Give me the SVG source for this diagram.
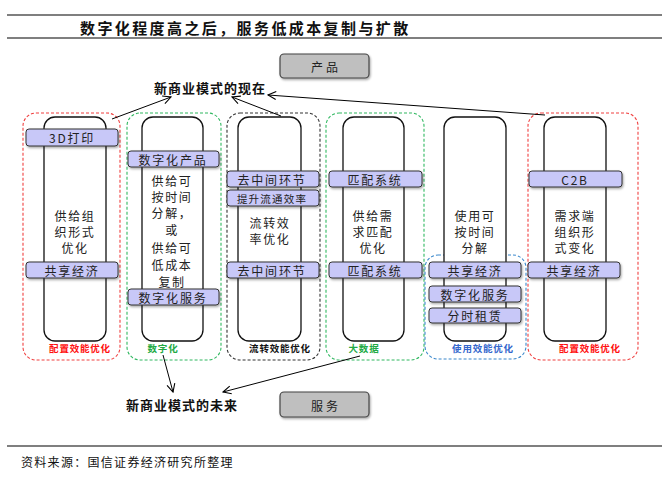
<svg xmlns="http://www.w3.org/2000/svg" width="669" height="479" viewBox="0 0 669 479">
<defs>
<marker id="arr" markerWidth="10" markerHeight="10" refX="9" refY="5" orient="auto" markerUnits="userSpaceOnUse">
<path d="M1,1 L9,5 L1,9" fill="none" stroke="#000" stroke-width="1.1"/>
</marker>
<filter id="sh" x="-10%" y="-20%" width="130%" height="160%">
<feDropShadow dx="1" dy="1.5" stdDeviation="0.8" flood-color="#000" flood-opacity="0.35"/>
</filter>
<style>
text{font-family:"Noto Sans CJK SC","Liberation Serif",serif;fill:#111;}
.title{font-size:15px;font-weight:bold;letter-spacing:2.4px;}
.hd{font-size:13px;font-weight:bold;letter-spacing:1px;}
.body{font-size:12px;letter-spacing:1.6px;fill:#222;}
.bt{font-size:12px;letter-spacing:1.8px;fill:#222;}
.sm{font-size:10.5px;letter-spacing:1.2px;}
.wide{letter-spacing:3px;}
.lab{font-size:9.5px;font-weight:bold;letter-spacing:0.8px;}
.red{fill:#ff1010;}
.grn{fill:#22aa44;}
.blu{fill:#3366cc;}
.dash{fill:none;stroke-width:1.1;stroke-dasharray:3 2;}
.inner{fill:#fff;stroke:#111;stroke-width:1.3;}
.band{fill:#c8c8f8;stroke:#333;stroke-width:1;filter:url(#sh);}
.gbox{fill:#bfbfbf;stroke:#444;stroke-width:1.2;filter:url(#sh);}
.conn{fill:none;stroke:#000;stroke-width:1;marker-end:url(#arr);}
.rule{stroke:#000;stroke-width:1.2;}
</style>
</defs>
<rect width="669" height="479" fill="#fff"/>
<line class="rule" x1="7" y1="15" x2="662" y2="15"/>
<line class="rule" x1="7" y1="38" x2="662" y2="38"/>
<text class="title" x="80" y="27" dominant-baseline="central">数字化程度高之后，服务低成本复制与扩散</text>

<g id="product">
<rect class="gbox" x="280" y="54" width="89" height="24" rx="4"/>
<text class="bt wide" x="326" y="66" text-anchor="middle" dominant-baseline="central">产品</text>
</g>
<g id="now">
<text class="hd" x="210" y="87" text-anchor="middle" dominant-baseline="central">新商业模式的现在</text>
</g>

<g id="col1">
<rect class="dash" x="23" y="113" width="97" height="247" rx="13" stroke="#f04040"/>
<rect class="inner" x="44" y="117" width="62" height="224" rx="11"/>
<rect class="band" x="26" y="129" width="92" height="17" rx="3"/>
<text class="bt" x="72" y="137.5" text-anchor="middle" dominant-baseline="central">3D打印</text>
<text class="body" x="75" y="215" text-anchor="middle" dominant-baseline="central">供给组</text>
<text class="body" x="75" y="231" text-anchor="middle" dominant-baseline="central">织形式</text>
<text class="body" x="75" y="247" text-anchor="middle" dominant-baseline="central">优化</text>
<rect class="band" x="26" y="262" width="92" height="16" rx="3"/>
<text class="bt" x="72" y="270" text-anchor="middle" dominant-baseline="central">共享经济</text>
<text class="lab red" x="80" y="348" text-anchor="middle" dominant-baseline="central">配置效能优化</text>
</g>

<g id="col2">
<rect class="dash" x="127" y="113" width="94" height="247" rx="13" stroke="#30b860"/>
<rect class="inner" x="142" y="117" width="61" height="224" rx="11"/>
<rect class="band" x="128" y="151" width="91" height="16" rx="3"/>
<text class="bt" x="173" y="159" text-anchor="middle" dominant-baseline="central">数字化产品</text>
<text class="body" x="172" y="180" text-anchor="middle" dominant-baseline="central">供给可</text>
<text class="body" x="172" y="196" text-anchor="middle" dominant-baseline="central">按时间</text>
<text class="body" x="172" y="212" text-anchor="middle" dominant-baseline="central">分解，</text>
<text class="body" x="172" y="229" text-anchor="middle" dominant-baseline="central">或</text>
<text class="body" x="172" y="247" text-anchor="middle" dominant-baseline="central">供给可</text>
<text class="body" x="172" y="264" text-anchor="middle" dominant-baseline="central">低成本</text>
<text class="body" x="172" y="281" text-anchor="middle" dominant-baseline="central">复制</text>
<rect class="band" x="128" y="289" width="91" height="16" rx="3"/>
<text class="bt" x="173" y="297" text-anchor="middle" dominant-baseline="central">数字化服务</text>
<text class="lab grn" x="163" y="348" text-anchor="middle" dominant-baseline="central">数字化</text>
</g>

<g id="col3">
<rect class="dash" x="227" y="113" width="93" height="247" rx="13" stroke="#333"/>
<rect class="inner" x="238" y="117" width="63" height="224" rx="11"/>
<rect class="band" x="227" y="171" width="92" height="16" rx="3"/>
<text class="bt" x="272" y="179" text-anchor="middle" dominant-baseline="central">去中间环节</text>
<rect class="band" x="227" y="190" width="92" height="16" rx="3"/>
<text class="bt sm" x="272" y="198" text-anchor="middle" dominant-baseline="central">提升流通效率</text>
<text class="body" x="270" y="222" text-anchor="middle" dominant-baseline="central">流转效</text>
<text class="body" x="270" y="238" text-anchor="middle" dominant-baseline="central">率优化</text>
<rect class="band" x="227" y="262" width="92" height="16" rx="3"/>
<text class="bt" x="272" y="270" text-anchor="middle" dominant-baseline="central">去中间环节</text>
<text class="lab" x="280" y="348" text-anchor="middle" dominant-baseline="central">流转效能优化</text>
</g>

<g id="col4">
<rect class="dash" x="326" y="113" width="98" height="247" rx="13" stroke="#30b860"/>
<rect class="inner" x="343" y="117" width="61" height="224" rx="11"/>
<rect class="band" x="329" y="171" width="93" height="16" rx="3"/>
<text class="bt" x="375" y="179" text-anchor="middle" dominant-baseline="central">匹配系统</text>
<text class="body" x="373" y="215" text-anchor="middle" dominant-baseline="central">供给需</text>
<text class="body" x="373" y="231" text-anchor="middle" dominant-baseline="central">求匹配</text>
<text class="body" x="373" y="247" text-anchor="middle" dominant-baseline="central">优化</text>
<rect class="band" x="329" y="262" width="93" height="16" rx="3"/>
<text class="bt" x="375" y="270" text-anchor="middle" dominant-baseline="central">匹配系统</text>
<text class="lab grn" x="364" y="348" text-anchor="middle" dominant-baseline="central">大数据</text>
</g>

<g id="col5">
<rect class="dash" x="425" y="255" width="101" height="104" rx="13" stroke="#3a88cc"/>
<rect class="inner" x="444" y="117" width="62" height="224" rx="11"/>
<text class="body" x="475" y="215" text-anchor="middle" dominant-baseline="central">使用可</text>
<text class="body" x="475" y="231" text-anchor="middle" dominant-baseline="central">按时间</text>
<text class="body" x="475" y="247" text-anchor="middle" dominant-baseline="central">分解</text>
<rect class="band" x="429" y="262" width="92" height="16" rx="3"/>
<text class="bt" x="475" y="270" text-anchor="middle" dominant-baseline="central">共享经济</text>
<rect class="band" x="429" y="286" width="92" height="16" rx="3"/>
<text class="bt" x="475" y="294" text-anchor="middle" dominant-baseline="central">数字化服务</text>
<rect class="band" x="429" y="308" width="92" height="15" rx="3"/>
<text class="bt" x="475" y="315.5" text-anchor="middle" dominant-baseline="central">分时租赁</text>
<text class="lab blu" x="483" y="348" text-anchor="middle" dominant-baseline="central">使用效能优化</text>
</g>

<g id="col6">
<rect class="dash" x="528" y="113" width="110" height="247" rx="13" stroke="#f04040"/>
<rect class="inner" x="544" y="117" width="62" height="224" rx="11"/>
<rect class="band" x="529" y="171" width="93" height="16" rx="3"/>
<text class="bt" x="575" y="179" text-anchor="middle" dominant-baseline="central">C2B</text>
<text class="body" x="575" y="215" text-anchor="middle" dominant-baseline="central">需求端</text>
<text class="body" x="575" y="231" text-anchor="middle" dominant-baseline="central">组织形</text>
<text class="body" x="575" y="247" text-anchor="middle" dominant-baseline="central">式变化</text>
<rect class="band" x="528" y="262" width="92" height="16" rx="3"/>
<text class="bt" x="574" y="270" text-anchor="middle" dominant-baseline="central">共享经济</text>
<text class="lab red" x="590" y="348" text-anchor="middle" dominant-baseline="central">配置效能优化</text>
</g>

<g id="connectors">
<line class="conn" x1="112" y1="119" x2="171" y2="97"/>
<line class="conn" x1="281" y1="116" x2="232" y2="97"/>
<line class="conn" x1="545" y1="115" x2="268" y2="95"/>
<line class="conn" x1="163" y1="355" x2="173" y2="392"/>
<line class="conn" x1="360" y1="356" x2="223" y2="392"/>
</g>

<g id="future">
<text class="hd" x="182" y="404" text-anchor="middle" dominant-baseline="central">新商业模式的未来</text>
</g>
<g id="service">
<rect class="gbox" x="280" y="392" width="89" height="25" rx="4"/>
<text class="bt wide" x="326" y="405" text-anchor="middle" dominant-baseline="central">服务</text>
</g>

<line class="rule" x1="7" y1="446" x2="662" y2="446"/>
<text x="21" y="461" dominant-baseline="central" style="font-size:12px;letter-spacing:1.3px">资料来源：国信证券经济研究所整理</text>
</svg>
